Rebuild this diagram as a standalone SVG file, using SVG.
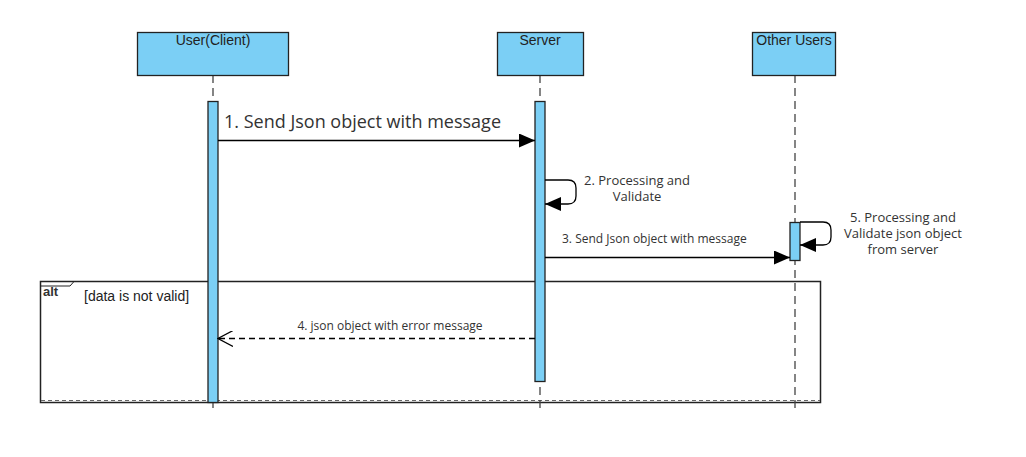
<svg xmlns="http://www.w3.org/2000/svg" width="1026" height="457" viewBox="0 0 1026 457">
<defs>
<style>
.actor{fill:#7BCFF5;stroke:#222;stroke-width:1.3}
.act{fill:#7BCFF5;stroke:#222;stroke-width:1.3}
.life{stroke:#444;stroke-width:1.3;stroke-dasharray:8 5;fill:none}
.hdr{font-family:"Liberation Sans",Arial,sans-serif;font-size:14px;fill:#222;text-anchor:middle}
.lbl{font-family:"Open Sans","Noto Sans",sans-serif;fill:#333}
.msg{stroke:#000;stroke-width:1.3;fill:none}
</style>
<marker id="fill" viewBox="0 0 16 14" refX="16" refY="7" markerWidth="16" markerHeight="14" markerUnits="userSpaceOnUse" orient="auto">
<path d="M0,0 L16,7 L0,14 Z" fill="#000"/>
</marker>
<marker id="open" viewBox="0 0 16 16" refX="15" refY="8" markerWidth="16" markerHeight="16" markerUnits="userSpaceOnUse" orient="auto">
<path d="M0,0 L15,8 L0,16" fill="none" stroke="#000" stroke-width="1.2"/>
</marker>
</defs>
<rect width="1026" height="457" fill="#fff"/>
<g id="frame-alt">
<rect x="40.5" y="281.5" width="780" height="121" fill="none" stroke="#222" stroke-width="1.5"/>
<line x1="41" y1="400.5" x2="820" y2="400.5" stroke="#666" stroke-width="1.2" stroke-dasharray="4 3"/>
<path d="M40.5,286 L70,286 L74,281.5" fill="none" stroke="#222" stroke-width="1"/>
<text x="43" y="296" font-family="Liberation Sans,Arial,sans-serif" font-size="13" font-weight="bold" fill="#333">alt</text>
<text x="84" y="301" font-family="Liberation Sans,Arial,sans-serif" font-size="14" fill="#222">[data is not valid]</text>
</g>
<g id="user">
<line class="life" x1="213" y1="75" x2="213" y2="410"/>
<rect class="actor" x="137.5" y="32.5" width="151" height="43"/>
<text class="hdr" x="213" y="45">User(Client)</text>
<rect class="act" x="208" y="101.5" width="10" height="301"/>
</g>
<g id="server">
<line class="life" x1="540" y1="75" x2="540" y2="410"/>
<rect class="actor" x="497.5" y="32.5" width="86" height="43"/>
<text class="hdr" x="540" y="45">Server</text>
<rect class="act" x="535" y="101.5" width="10" height="280"/>
</g>
<g id="other-users">
<line class="life" x1="795" y1="75" x2="795" y2="410"/>
<rect class="actor" x="752.5" y="32.5" width="83" height="43"/>
<text class="hdr" x="794" y="45" font-size="13.8">Other Users</text>
<rect class="act" x="790" y="222.5" width="10" height="38"/>
</g>
<g id="connectors">
<line class="msg" x1="218" y1="140.5" x2="535" y2="140.5" marker-end="url(#fill)"/>
<text class="lbl" x="224" y="128" font-size="18">1. Send Json object with message</text>
<path class="msg" d="M545,180 L568,180 Q576,180 576,188 L576,196 Q576,204 568,204 L545,204" marker-end="url(#fill)"/>
<text class="lbl" x="637" y="185" font-size="13" text-anchor="middle">2. Processing and</text>
<text class="lbl" x="637" y="201" font-size="13" text-anchor="middle">Validate</text>
<line class="msg" x1="545" y1="257.5" x2="790" y2="257.5" marker-end="url(#fill)"/>
<text class="lbl" x="562" y="243" font-size="12">3. Send Json object with message</text>
<path class="msg" d="M800,222 L823,222 Q831,222 831,230 L831,237 Q831,245 823,245 L800,245" marker-end="url(#fill)"/>
<text class="lbl" x="903" y="222" font-size="13" text-anchor="middle">5. Processing and</text>
<text class="lbl" x="903" y="238" font-size="13" text-anchor="middle">Validate json object</text>
<text class="lbl" x="903" y="254" font-size="13" text-anchor="middle">from server</text>
<line class="msg" x1="535" y1="338.5" x2="218" y2="338.5" stroke-dasharray="6 4" marker-end="url(#open)"/>
<text class="lbl" x="390" y="330" font-size="12" text-anchor="middle">4. json object with error message</text>
</g>
</svg>
